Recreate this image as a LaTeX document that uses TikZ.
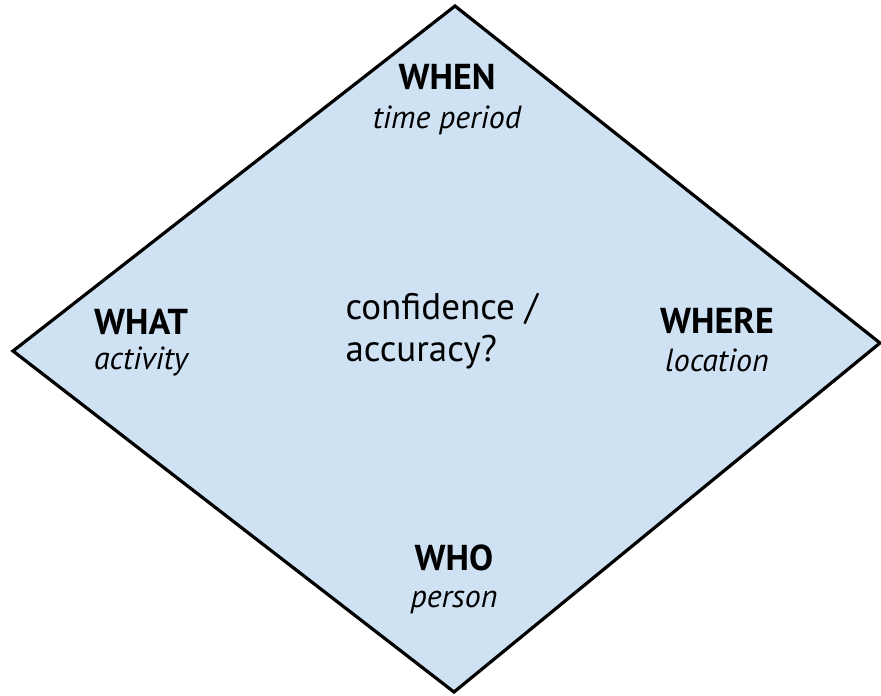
\documentclass[tikz,border=0pt]{standalone}
\usepackage{fontspec}
\setmainfont{PT Sans}
\usepackage{xcolor}
\usetikzlibrary{positioning}
\definecolor{paleblue}{HTML}{CFE2F3}
\tikzset{
  heading/.style={font=\fontsize{36}{40}\selectfont\bfseries},
  hint/.style={font=\fontsize{32}{40}\selectfont\itshape},
  query/.style={font=\fontsize{37}{42}\selectfont, align=left, anchor=west}
}
\begin{document}
\begin{tikzpicture}[x=1pt, y=-1pt]
\useasboundingbox (0,0) rectangle (881,696);
\coordinate (top) at (455,6);
\coordinate (left) at (13,351);
\coordinate (right) at (880,343);
\coordinate (bottom) at (454,692);
\draw[line width=3.2pt, line join=miter, fill=paleblue] (top) -- (right) -- (bottom) -- (left) -- cycle;
% corner labels
\node[heading] (when) at (447,77) {WHEN};
\node[hint] (period) at (447,120) {time period};
\node[heading] (what) at (141,322) {WHAT};
\node[hint] (activity) at (141,361) {activity};
\node[heading] (where) at (717,321) {WHERE};
\node[hint] (location) at (717,360) {location};
\node[heading] (who) at (454,558) {WHO};
\node[hint] (person) at (454,603) {person};
% centre question
\node[query] (conf) at (342,331) {confidence /\\accuracy?};
\end{tikzpicture}
\end{document}
